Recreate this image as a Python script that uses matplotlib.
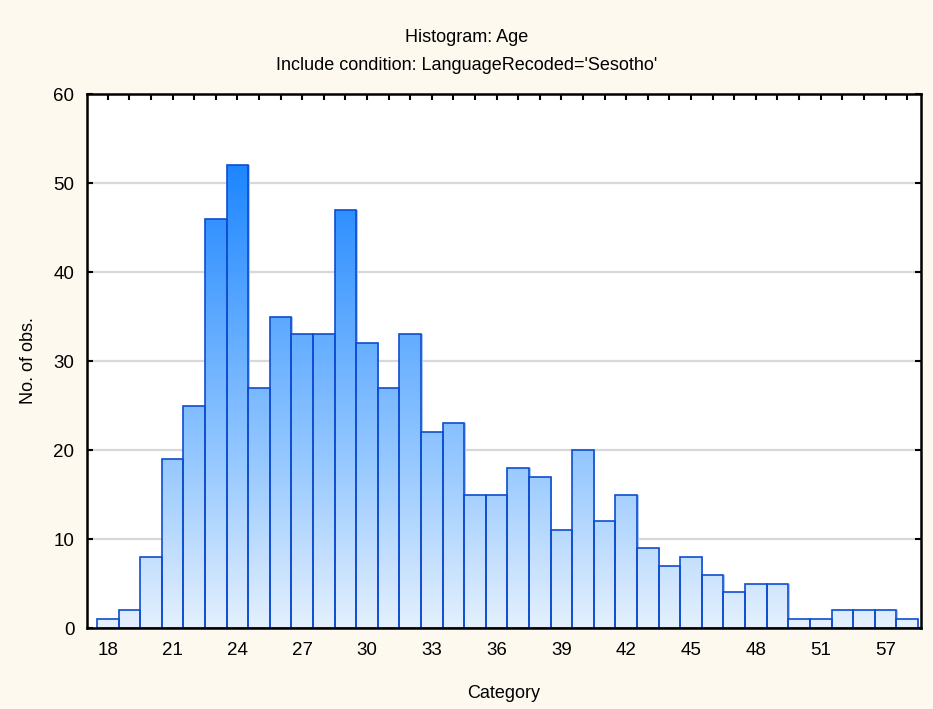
import numpy as np
import matplotlib.pyplot as plt
from matplotlib.colors import LinearSegmentedColormap
from matplotlib.patches import Rectangle

plt.rcParams['font.family'] = ['Liberation Sans', 'DejaVu Sans']

# categorias (edades) y frecuencias
categorias = list(range(18, 52)) + [53, 55, 57, 59]
frecuencias = [1, 2, 8, 19, 25, 46, 52, 27, 35, 33, 33, 47, 32, 27, 33, 22, 23,
               15, 15, 18, 17, 11, 20, 12, 15, 9, 7, 8, 6, 4, 5, 5, 1, 1,
               2, 2, 2, 1]
yticks = [0, 10, 20, 30, 40, 50, 60]

fondo = '#FEF9EE'
cmap = LinearSegmentedColormap.from_list(
    'azul', ['#E4F0FD', '#9ACAFF', '#5AA8FF', '#1A84FF'])

fig = plt.figure(figsize=(9.33, 7.09), dpi=100, facecolor=fondo)
ax = fig.add_axes([0.0932, 0.1142, 0.8939, 0.7532])
ax.set_facecolor('white')

x = np.arange(len(categorias))
ymax = 60

# grilla horizontal detras de las barras
for v in yticks[1:-1]:
    ax.axhline(v, color='#D8D8D8', lw=1.6, zorder=0)

grad = np.linspace(0, 1, 256).reshape(-1, 1) * (ymax / 53.0)
for xi, h in zip(x, frecuencias):
    # sombra clara a la derecha
    ax.add_patch(Rectangle((xi - 0.5 + 0.07, 0), 1.0, h, facecolor='#A9C6F2',
                           edgecolor='none', zorder=1))
    rect = Rectangle((xi - 0.5, 0), 1.0, h, facecolor='none',
                     edgecolor='#0E4DD0', lw=1.2, zorder=3)
    ax.add_patch(rect)
    im = ax.imshow(grad, cmap=cmap, vmin=0, vmax=1, origin='lower',
                   extent=[xi - 0.5, xi + 0.5, 0, ymax], aspect='auto', zorder=2)
    im.set_clip_path(rect)

ax.set_xlim(-0.96, len(categorias) - 0.36)
ax.set_ylim(0, ymax)

etiquetas = [str(c) if i % 3 == 0 else '' for i, c in enumerate(categorias)]
ax.set_xticks(x)
ax.set_xticklabels(etiquetas)
ax.set_yticks(yticks)
ax.tick_params(direction='in', length=4, width=1.5, top=True, right=True,
               labelsize=13.5, pad=10)
ax.tick_params(axis='y', pad=9)
for s in ax.spines.values():
    s.set_linewidth(1.8)
    s.set_zorder(5)

ax.set_xlabel('Category', fontsize=13, labelpad=19)
ax.set_ylabel('No. of obs.', fontsize=13, labelpad=12)

fig.text(0.5, 1 - 37 / 709, 'Histogram: Age', ha='center', va='center', fontsize=13)
fig.text(0.5, 1 - 66 / 709, "Include condition: LanguageRecoded='Sesotho'",
         ha='center', va='center', fontsize=13)

fig.savefig('out.png', dpi=100, facecolor=fondo)
